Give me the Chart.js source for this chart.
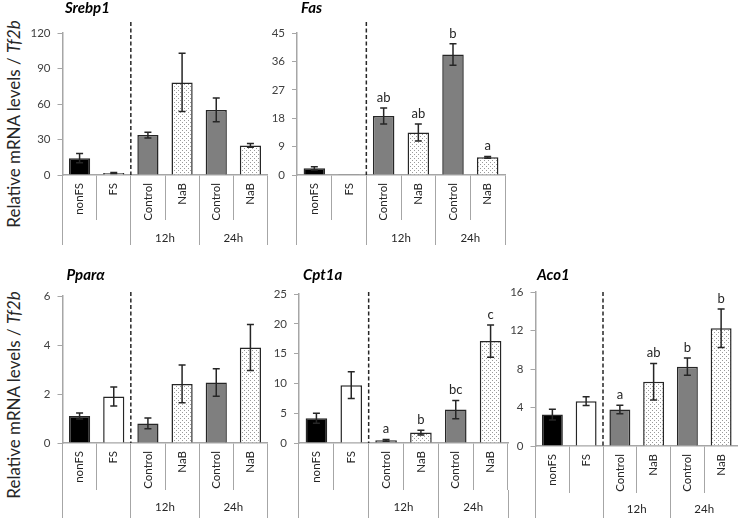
<!DOCTYPE html>
<html><head><meta charset="utf-8">
<script src="https://cdn.jsdelivr.net/npm/chart.js@4.4.1/dist/chart.umd.min.js"></script>
<style>
html,body{margin:0;padding:0;background:#fff;}
#wrap{position:relative;width:738px;height:518px;overflow:hidden;font-family:Lato,"DejaVu Sans",sans-serif;}
canvas{position:absolute;}
.ylab{position:absolute;white-space:nowrap;font-size:17px;color:#262626;transform:translate(-50%,-50%) rotate(-90deg);}
</style></head><body>
<div id="wrap">
  <div class="ylab" style="left:13px;top:124px">Relative mRNA levels / <i>Tf2b</i></div>
  <div class="ylab" style="left:13px;top:395px">Relative mRNA levels / <i>Tf2b</i></div>
  <canvas id="c1" width="270" height="262" style="left:0px;top:0px"></canvas>
  <canvas id="c2" width="242" height="262" style="left:268px;top:0px"></canvas>
  <canvas id="c3" width="270" height="256" style="left:0px;top:262px"></canvas>
  <canvas id="c4" width="240" height="256" style="left:270px;top:262px"></canvas>
  <canvas id="c5" width="230" height="256" style="left:508px;top:262px"></canvas>
</div>
<script>
// ---- data ----
const categories = ['nonFS', 'FS', 'Control', 'NaB', 'Control', 'NaB'];
const groups = ['', '12h', '24h'];

const srebp1Mean = [14.2, 1.7, 33.7, 78.2, 55.0, 25.0];
const srebp1Err  = [3.9, 0.5, 2.4, 24.6, 10.0, 1.6];
const srebp1Letters = ['', '', '', '', '', ''];

const fasMean = [2.1, 0.1, 18.7, 13.5, 38.2, 5.6];
const fasErr  = [0.5, 0, 2.5, 2.7, 3.4, 0.3];
const fasLetters = ['', '', 'ab', 'ab', 'b', 'a'];

const pparaMean = [1.10, 1.90, 0.80, 2.41, 2.47, 3.90];
const pparaErr  = [0.12, 0.39, 0.22, 0.77, 0.56, 0.94];
const pparaLetters = ['', '', '', '', '', ''];

const cpt1aMean = [4.15, 9.7, 0.45, 1.75, 5.6, 17.1];
const cpt1aErr  = [0.85, 2.25, 0.15, 0.4, 1.55, 2.7];
const cpt1aLetters = ['', '', 'a', 'b', 'bc', 'c'];

const aco1Mean = [3.27, 4.66, 3.79, 6.68, 8.24, 12.24];
const aco1Err  = [0.56, 0.45, 0.45, 1.9, 0.9, 2.0];
const aco1Letters = ['', '', 'a', 'ab', 'b', 'b'];

// ---- styling / layout ----
const FONT = 'Lato, "DejaVu Sans", sans-serif';
const AXIS = '#a6a6a6';
const INK = '#262626';

const panels = [
  {id:'c1', title:'Srebp1', mean:srebp1Mean, err:srebp1Err, letters:srebp1Letters, max:120, step:30,
   yW:62.5, pad:{top:33, right:2.5, bottom:17}, xH:45, x2H:25, gPad:-14, titleDx:2.5, titleY:13, dashTop:22},
  {id:'c2', title:'Fas', mean:fasMean, err:fasErr, letters:fasLetters, max:45, step:9,
   yW:29, pad:{top:33, right:5, bottom:17}, xH:45, x2H:25, gPad:-14, titleDx:4, titleY:13, dashTop:22},
  {id:'c3', title:'Pparα', mean:pparaMean, err:pparaErr, letters:pparaLetters, max:6, step:2,
   yW:62.5, pad:{top:34, right:2.5, bottom:0}, xH:47, x2H:28, gPad:-18, titleDx:4, titleY:18, dashTop:30},
  {id:'c4', title:'Cpt1a', mean:cpt1aMean, err:cpt1aErr, letters:cpt1aLetters, max:25, step:5,
   yW:29, pad:{top:32, right:2, bottom:0}, xH:47, x2H:28, gPad:-18, titleDx:4, titleY:18, dashTop:30},
  {id:'c5', title:'Aco1', mean:aco1Mean, err:aco1Err, letters:aco1Letters, max:16, step:4,
   yW:27.5, pad:{top:30, right:0, bottom:0}, xH:47, x2H:25, gPad:-16, titleDx:1.5, titleY:18, dashTop:30}
];

const overlay = {
  id: 'overlay',
  afterDatasetsDraw(chart, args, o) {
    const {ctx, chartArea} = chart;
    const x = chart.scales.x, y = chart.scales.y;
    ctx.save();
    // dashed divider between FS and 12h Control
    const xd = (x.getPixelForValue(1) + x.getPixelForValue(2)) / 2;
    ctx.strokeStyle = INK; ctx.lineWidth = 1.5; ctx.setLineDash([4, 2.5]);
    ctx.beginPath(); ctx.moveTo(xd, o.dashTop); ctx.lineTo(xd, chartArea.bottom); ctx.stroke();
    ctx.setLineDash([]);
    // error bars + letters
    o.mean.forEach((m, i) => {
      const e = o.err[i];
      const px = x.getPixelForValue(i);
      const yt = y.getPixelForValue(m + e), yb = y.getPixelForValue(m - e);
      if (e > 0) {
        ctx.strokeStyle = INK; ctx.lineWidth = 1.5;
        ctx.beginPath();
        ctx.moveTo(px, yt); ctx.lineTo(px, yb);
        ctx.moveTo(px - 3.5, yt); ctx.lineTo(px + 3.5, yt);
        ctx.moveTo(px - 3.5, yb); ctx.lineTo(px + 3.5, yb);
        ctx.stroke();
      }
      if (o.letters[i]) {
        ctx.fillStyle = INK; ctx.font = '13px ' + FONT;
        ctx.textAlign = 'center'; ctx.textBaseline = 'alphabetic';
        ctx.fillText(o.letters[i], px, yt - 6);
      }
    });
    // panel title
    ctx.fillStyle = '#000'; ctx.font = 'italic bold 15px ' + FONT;
    ctx.textAlign = 'left'; ctx.textBaseline = 'alphabetic';
    ctx.fillText(o.title, chartArea.left + o.titleDx, o.titleY);
    ctx.restore();
  }
};

function dotPattern(ctx) {
  const c = document.createElement('canvas'); c.width = 4; c.height = 4;
  const g = c.getContext('2d');
  g.fillStyle = '#fff'; g.fillRect(0, 0, 4, 4);
  g.fillStyle = '#9a9a9a'; g.fillRect(0, 0, 1, 1); g.fillRect(2, 2, 1, 1);
  return ctx.createPattern(c, 'repeat');
}

panels.forEach(p => {
  const cv = document.getElementById(p.id);
  const ctx = cv.getContext('2d');
  const dots = dotPattern(ctx);
  const fills = ['#000000', '#ffffff', '#7f7f7f', dots, '#7f7f7f', dots];
  new Chart(cv, {
    type: 'bar',
    data: {
      labels: categories,
      datasets: [{data: p.mean, backgroundColor: fills, borderColor: INK, borderWidth: 1.5,
                  barPercentage: 0.62, categoryPercentage: 1}]
    },
    options: {
      responsive: false, animation: false, devicePixelRatio: 1,
      layout: {padding: {left: 0, top: p.pad.top, right: p.pad.right, bottom: p.pad.bottom}},
      plugins: {legend: {display: false}, tooltip: {enabled: false}, title: {display: false}, overlay: p},
      scales: {
        x: {
          type: 'category', position: 'bottom', offset: true, weight: 0,
          grid: {offset: true, drawOnChartArea: false, drawTicks: true, tickLength: p.xH, color: AXIS, lineWidth: 1},
          border: {display: true, color: AXIS, width: 1.5},
          ticks: {autoSkip: false, minRotation: 90, maxRotation: 90, padding: -(p.xH - 8), color: INK,
                  font: {family: FONT, size: 11.5}},
          afterFit: s => { s.height = p.xH; }
        },
        x2: {
          type: 'category', position: 'bottom', labels: groups, offset: true, weight: 1,
          grid: {offset: true, drawOnChartArea: false, drawTicks: true, tickLength: p.x2H, color: AXIS, lineWidth: 1},
          border: {display: false},
          ticks: {autoSkip: false, minRotation: 0, maxRotation: 0, padding: p.gPad, color: INK,
                  font: {family: FONT, size: 11.5}},
          afterFit: s => { s.height = p.x2H; }
        },
        y: {
          type: 'linear', position: 'left', min: 0, max: p.max,
          grid: {drawOnChartArea: false, drawTicks: true, tickLength: 5, color: AXIS, lineWidth: 1},
          border: {display: true, color: AXIS, width: 1.5},
          ticks: {stepSize: p.step, padding: 7, color: '#404040', font: {family: FONT, size: 11.5}},
          afterFit: s => { s.width = p.yW; }
        }
      }
    },
    plugins: [overlay]
  });
});
</script>
</body></html>
